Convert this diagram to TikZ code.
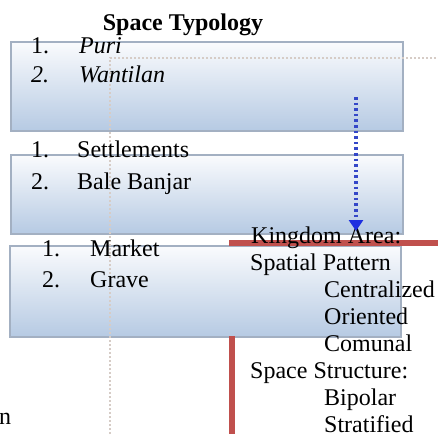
\documentclass[tikz,border=0pt]{standalone}
\usepackage{fontspec}
\setmainfont{Liberation Serif}
\usetikzlibrary{arrows.meta}
\definecolor{boxtop}{HTML}{FAFBFD}
\definecolor{boxbot}{HTML}{B6CAE3}
\definecolor{boxline}{HTML}{A3B0C2}
\definecolor{faint}{HTML}{D6CCC6}
\definecolor{arrowblue}{HTML}{3447C8}
\definecolor{tipblue}{HTML}{1E2FE0}
\definecolor{redline}{HTML}{C0504D}
\tikzset{
  panel/.style={draw=boxline, line width=1.6pt, top color=boxtop, bottom color=boxbot,
    minimum width=392pt, anchor=north west, inner sep=0pt},
  txt/.style={anchor=base west, inner sep=0pt, font=\fontsize{24}{28}\selectfont},
  itxt/.style={txt, font=\fontsize{24}{28}\selectfont\itshape},
  title/.style={anchor=base, inner sep=0pt, font=\fontsize{24}{28}\selectfont\bfseries},
  faintdot/.style={draw=faint, line width=2pt, dash pattern=on 2pt off 2pt},
  bluearrow/.style={draw=arrowblue, line width=3.2pt,
    dash pattern=on 2.6pt off 3pt, -{Triangle[width=14pt,length=11pt,color=tipblue]}},
  redbar/.style={draw=redline, line width=5.5pt}
}
\begin{document}
\begin{tikzpicture}[x=1pt,y=-1pt]
\useasboundingbox (0,0) rectangle (438,434);
% panels
\node[panel, minimum height=89pt] (b1) at (10,41) {};
\node[panel, minimum height=79pt] (b2) at (10,154) {};
\node[panel, minimum height=91pt, minimum width=391pt] (b3) at (9,245) {};
% faint dotted guides
\coordinate (fbot) at (110,434);
\coordinate (fcorner) at (110,58);
\coordinate (fright) at (438,58);
\draw[faintdot] (fbot) -- (fcorner) -- (fright);
% red bars
\coordinate (rh1) at (229,243);
\coordinate (rh2) at (438,243);
\coordinate (rv1) at (232,336);
\coordinate (rv2) at (232,434);
\draw[redbar] (rh1) -- (rh2);
\draw[redbar] (rv1) -- (rv2);
% title
\node[title] (ttl) at (183,30) {Space Typology};
% box 1
\node[txt] (a1n) at (31,53) {1.};
\node[itxt] (a1) at (79,53) {Puri};
\node[itxt] (a2n) at (31,82) {2.};
\node[itxt] (a2) at (79,82) {Wantilan};
% box 2
\node[txt] (c1n) at (31,157) {1.};
\node[txt] (c1) at (77,157) {Settlements};
\node[txt] (c2n) at (31,189) {2.};
\node[txt] (c2) at (77,189) {Bale Banjar};
% box 3
\node[txt] (d1n) at (42,256) {1.};
\node[txt] (d1) at (90,256) {Market};
\node[txt] (d2n) at (42,287) {2.};
\node[txt] (d2) at (90,287) {Grave};
% right text
\node[txt] (k1) at (251,243) {Kingdom Area:};
\node[txt] (k2) at (250,270) {Spatial Pattern};
\node[txt] (k3) at (324,297) {Centralized};
\node[txt] (k4) at (324,324) {Oriented};
\node[txt] (k5) at (324,351) {Comunal};
\node[txt] (k6) at (250,378) {Space Structure:};
\node[txt] (k7) at (324,405) {Bipolar};
\node[txt] (k8) at (324,432) {Stratified};
% stray letter
\node[txt] (nn) at (-1,424) {n};
% blue arrow
\coordinate (as) at (356,97);
\coordinate (ae) at (356,231);
\draw[bluearrow] (as) -- (ae);
\end{tikzpicture}
\end{document}
